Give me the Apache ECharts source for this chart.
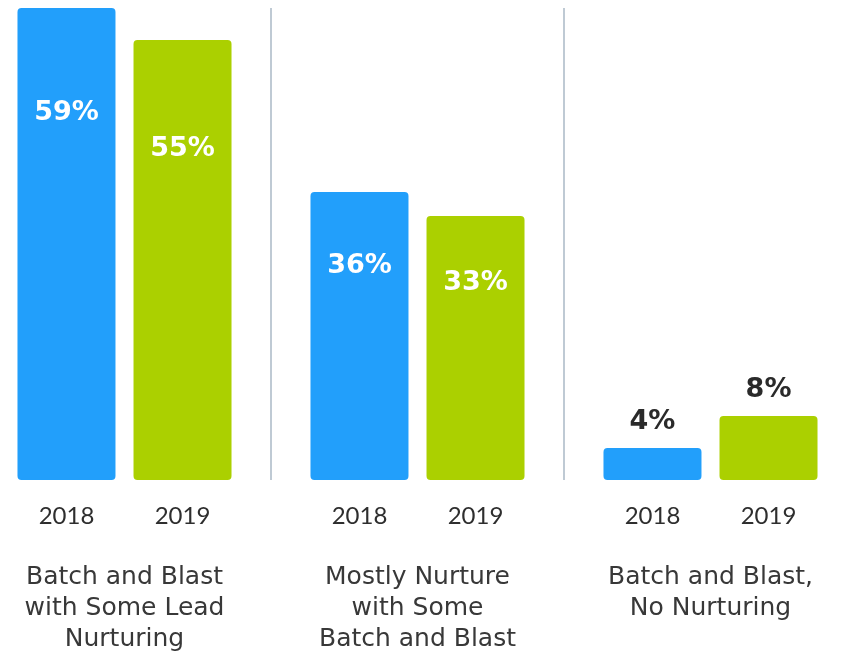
<!DOCTYPE html>
<html>
<head>
<meta charset="utf-8">
<script src="https://cdn.jsdelivr.net/npm/echarts@6/dist/echarts.min.js"></script>
<style>
html,body{margin:0;padding:0;background:#fff;}
#chart{width:855px;height:654px;}
</style>
</head>
<body>
<div id="chart"></div>
<script>
const categories = [
  "Batch and Blast\nwith Some Lead\nNurturing",
  "Mostly Nurture\nwith Some\nBatch and Blast",
  "Batch and Blast,\nNo Nurturing"
];
const years = ["2018", "2019"];
const values2018 = [59, 36, 4];
const values2019 = [55, 33, 8];

const colors = ["#229ffb", "#abd000"];
// label vertical anchor inside bars, as fraction of bar height from top
const labelFrac = [[0.222, 0.258, 0.25], [0.248, 0.255, 0.25]];
const TEXT_FONT = "DejaVu Sans";
const YEAR_FONT = "Lato";

const chart = echarts.init(document.getElementById("chart"), null, {renderer: "canvas"});

function makeSeries(name, vals, si) {
  return {
    name: name,
    type: "bar",
    barWidth: 98,
    barGap: "18.4%",
    itemStyle: {color: colors[si], borderRadius: 4},
    data: vals.map((v, i) => {
      const outside = v < 10;
      return {
        value: v,
        label: outside ? {
          position: "top", distance: 13, color: "#2a2a2a"
        } : {
          position: ["50%", (labelFrac[si][i] * 100) + "%"],
          align: "center", verticalAlign: "middle", color: "#ffffff"
        }
      };
    }),
    label: {
      show: true,
      formatter: p => p.value + "%",
      fontFamily: "DejaVu Sans",
      fontWeight: "bold",
      fontSize: 27
    },
    emphasis: {disabled: true}
  };
}

chart.setOption({
  animation: false,
  grid: {left: -22, width: 879, top: 8, height: 472, containLabel: false, outerBoundsMode: "none"},
  xAxis: {
    type: "category",
    data: categories,
    boundaryGap: true,
    axisLine: {show: false},
    axisTick: {show: false},
    splitLine: {show: true, lineStyle: {color: "#bfcad4", width: 2}},
    axisLabel: {
      interval: 0,
      margin: 21,
      hideOverlap: false,
      formatter: function (value) {
        const lines = value.split("\n").map(l => "{c|" + l + "}").join("\n");
        return "{y|" + years[0] + "}{g| }{y|" + years[1] + "}\n{s| }\n" + lines;
      },
      rich: {
        y: {width: 98, align: "center", fontFamily: YEAR_FONT, fontSize: 24, color: "#2e2e2e", lineHeight: 30},
        g: {width: 18, fontSize: 24, lineHeight: 30},
        s: {fontSize: 10, lineHeight: 31},
        c: {fontFamily: TEXT_FONT, fontSize: 25, color: "#383838", lineHeight: 31}
      }
    }
  },
  yAxis: {type: "value", min: 0, max: 59, show: false, splitLine: {show: false}},
  series: [
    makeSeries(years[0], values2018, 0),
    makeSeries(years[1], values2019, 1)
  ]
});
</script>
</body>
</html>
